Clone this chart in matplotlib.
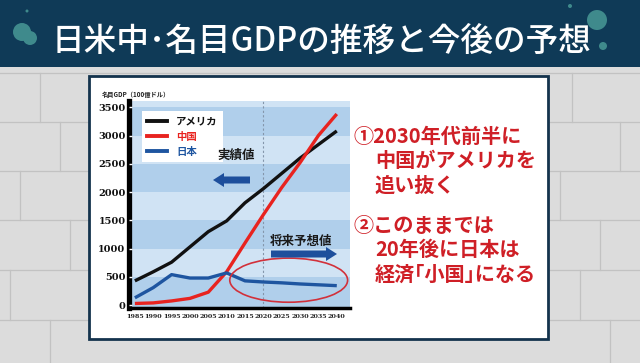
import matplotlib
matplotlib.use("Agg")
import matplotlib.pyplot as plt
from matplotlib.patches import Rectangle, Ellipse, FancyArrow, Circle
from matplotlib.lines import Line2D

years = [1985, 1990, 1995, 2000, 2005, 2010, 2015, 2020, 2025, 2030, 2035, 2040]
usa = [430, 590, 760, 1030, 1300, 1490, 1810, 2060, 2330, 2600, 2840, 3080]
china = [30, 40, 75, 120, 230, 590, 1100, 1600, 2080, 2520, 3000, 3380]
japan = [130, 310, 540, 480, 480, 570, 430, 410, 395, 375, 360, 345]
series_names = ["アメリカ", "中国", "日本"]
yticks = [0, 500, 1000, 1500, 2000, 2500, 3000, 3500]
title = "日米中･名目GDPの推移と今後の予想"
ylabel = "名目GDP（100億ドル）"
note1 = ["①2030年代前半に", "中国がアメリカを", "追い抜く"]
note2 = ["②このままでは", "20年後に日本は", "経済｢小国｣になる"]

JP = ["Noto Sans CJK JP", "DejaVu Sans"]
plt.rcParams["font.family"] = JP

fig = plt.figure(figsize=(6.4, 3.63), dpi=100)

# ---- background decoration (pixel coordinates) ----
bg = fig.add_axes([0, 0, 1, 1])
bg.set_xlim(0, 640)
bg.set_ylim(363, 0)
bg.axis("off")
bg.add_patch(Rectangle((0, 0), 640, 363, facecolor="#dcdcdc", edgecolor="none", zorder=0))
mortar = "#c2c2c2"
rows = [73, 122, 171, 220, 270, 320]
for r in rows:
    bg.plot([0, 640], [r, r], color=mortar, lw=0.9, zorder=1)
joints = [(572, 73, 122), (620, 122, 171), (560, 171, 220), (600, 220, 270),
          (70, 220, 270), (10, 270, 320), (40, 73, 122), (20, 171, 220),
          (60, 122, 171), (580, 270, 320), (50, 320, 363), (610, 320, 363)]
for x, y0, y1 in joints:
    bg.plot([x, x], [y0, y1], color=mortar, lw=0.9, zorder=1)
bg.add_patch(Rectangle((0, 0), 640, 67, facecolor="#0f3a57", edgecolor="none", zorder=3))
for cx, cy, rr in [(22, 32, 9), (30, 38, 7), (597, 20, 10), (603, 46, 4), (27, 11, 1.5), (570, 6, 2)]:
    bg.add_patch(Circle((cx, cy), rr, facecolor="#3f8a8c", edgecolor="none", zorder=4))
bg.text(321, 41, title, color="white", fontsize=23.5, ha="center", va="center",
        family=JP, fontweight="medium", zorder=5)
bg.add_patch(Rectangle((89, 76), 459, 263, facecolor="white", edgecolor="#14334d", lw=2, zorder=3))
bg.text(102, 94, ylabel, fontsize=4.5, ha="left", va="center", color="#222",
        family=JP, fontweight="bold", zorder=5)

red_txt = "#cf1f26"
for i, line in enumerate(note1):
    bg.text(353 if i == 0 else 375, 136 + 24.5 * i, line, color=red_txt, fontsize=14.5,
            fontweight="bold", ha="left", va="center", family=JP, zorder=5)
for i, line in enumerate(note2):
    bg.text(353 if i == 0 else 375, 225 + 24.5 * i, line, color=red_txt, fontsize=14.5,
            fontweight="bold", ha="left", va="center", family=JP, zorder=5)

# ---- chart ----
ax = fig.add_axes([129 / 640, (363 - 308) / 363, (350 - 129) / 640, (308 - 101) / 363])
ax.set_xlim(1983.4, 2043.6)
ax.set_ylim(-50, 3610)
ax.set_facecolor("#d0e3f4")
for lo in [-50, 1000, 2000, 3000]:
    hi = 500 if lo == -50 else lo + 500
    ax.axhspan(lo, hi, color="#b0cfeb", zorder=0, lw=0)
ax.axvline(2020, color="#8496ab", lw=0.8, ls=(0, (2, 2)), zorder=1)

lw = 2.4
ax.plot(years, usa, color="#111111", lw=lw, solid_capstyle="butt", zorder=3)
ax.plot(years, china, color="#e8231f", lw=lw, solid_capstyle="butt", zorder=3)
ax.plot(years, japan, color="#1e55a0", lw=lw, solid_capstyle="butt", zorder=3)

handles = [Line2D([], [], color=c, lw=2.8) for c in ["#111111", "#e8231f", "#1e55a0"]]
leg = ax.legend(handles, series_names, loc="upper left", bbox_to_anchor=(0.035, 0.975),
                frameon=True, fancybox=False, edgecolor="none", framealpha=1,
                prop={"family": JP, "weight": "bold", "size": 7.5},
                labelcolor=["#111111", "#e8231f", "#1e55a0"],
                handlelength=1.9, handletextpad=0.9, labelspacing=0.5, borderpad=0.5)

ax.add_patch(Ellipse((2026.9, 442), 32.1, 780, facecolor="none", edgecolor="#d2303a",
                     lw=1.2, zorder=4, clip_on=False))

ax.set_yticks(yticks)
ax.set_xticks(years)
ax.set_yticklabels([str(v) for v in yticks], family="DejaVu Serif", fontweight="bold",
                   fontsize=7, color="#111")
ax.set_xticklabels([str(v) for v in years], family="DejaVu Serif", fontweight="bold",
                   fontsize=4.6, color="#222")
ax.tick_params(axis="y", direction="in", length=2.5, width=1, color="white", pad=2.5)
ax.tick_params(axis="x", length=0, pad=4)
ax.yaxis.set_zorder(5)
for s in ["top", "right"]:
    ax.spines[s].set_visible(False)
ax.spines["left"].set_linewidth(3.8)
ax.spines["left"].set_color("black")
ax.spines["bottom"].set_linewidth(2.5)
ax.spines["bottom"].set_color("black")

# annotations (pixel coords, drawn above chart)
over = fig.add_axes([0, 0, 1, 1], zorder=10)
over.set_xlim(0, 640)
over.set_ylim(363, 0)
over.axis("off")
over.patch.set_alpha(0)
over.text(236, 155, "実績値", fontsize=9, fontweight="bold", ha="center", va="center",
          color="#1a1a1a", family=JP)
over.add_patch(FancyArrow(250, 180, -37, 0, width=7, head_width=14, head_length=11,
                          length_includes_head=True, color="#1e4f9c", lw=0))
over.text(301, 241, "将来予想値", fontsize=9, fontweight="bold", ha="center", va="center",
          color="#1a1a1a", family=JP)
over.add_patch(FancyArrow(271, 254, 66, 0, width=7, head_width=14, head_length=11,
                          length_includes_head=True, color="#1e4f9c", lw=0))

fig.savefig("out.png", dpi=100)
